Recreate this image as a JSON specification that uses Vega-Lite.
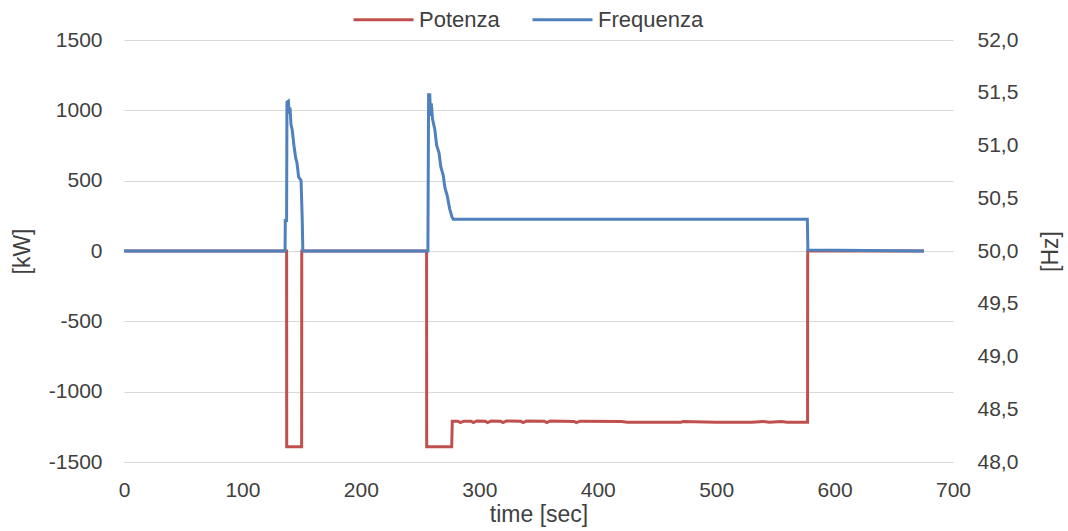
{
  "$schema": "https://vega.github.io/schema/vega-lite/v6.json",
  "width": 829,
  "height": 422,
  "autosize": "none",
  "padding": {"left": 124, "top": 40, "right": 115, "bottom": 69},
  "background": "white",
  "config": {
    "view": {"stroke": null},
    "font": "Liberation Sans",
    "axis": {"labelFont": "Liberation Sans", "titleFont": "Liberation Sans", "labelFontSize": 21, "titleFontSize": 23, "labelColor": "#404040", "titleColor": "#404040", "titleFontWeight": "normal"}
  },
  "datasets": {
    "pot": [
      {"t": 0, "s": "Potenza", "v": 0},
      {"t": 137.3, "s": "Potenza", "v": 0},
      {"t": 137.4, "s": "Potenza", "v": -1392},
      {"t": 150, "s": "Potenza", "v": -1392},
      {"t": 150.1, "s": "Potenza", "v": 0},
      {"t": 255.5, "s": "Potenza", "v": 0},
      {"t": 255.6, "s": "Potenza", "v": -1392},
      {"t": 276.7, "s": "Potenza", "v": -1392},
      {"t": 277.2, "s": "Potenza", "v": -1210},
      {"t": 282, "s": "Potenza", "v": -1210},
      {"t": 284, "s": "Potenza", "v": -1220},
      {"t": 287, "s": "Potenza", "v": -1210},
      {"t": 293, "s": "Potenza", "v": -1210},
      {"t": 295, "s": "Potenza", "v": -1220},
      {"t": 298, "s": "Potenza", "v": -1208},
      {"t": 305, "s": "Potenza", "v": -1210},
      {"t": 307, "s": "Potenza", "v": -1220},
      {"t": 310, "s": "Potenza", "v": -1208},
      {"t": 318, "s": "Potenza", "v": -1210},
      {"t": 320, "s": "Potenza", "v": -1220},
      {"t": 323, "s": "Potenza", "v": -1208},
      {"t": 335, "s": "Potenza", "v": -1210},
      {"t": 337, "s": "Potenza", "v": -1220},
      {"t": 340, "s": "Potenza", "v": -1208},
      {"t": 355, "s": "Potenza", "v": -1210},
      {"t": 357, "s": "Potenza", "v": -1220},
      {"t": 360, "s": "Potenza", "v": -1208},
      {"t": 380, "s": "Potenza", "v": -1212},
      {"t": 382, "s": "Potenza", "v": -1220},
      {"t": 385, "s": "Potenza", "v": -1210},
      {"t": 420, "s": "Potenza", "v": -1212},
      {"t": 425, "s": "Potenza", "v": -1218},
      {"t": 470, "s": "Potenza", "v": -1218},
      {"t": 472, "s": "Potenza", "v": -1212},
      {"t": 500, "s": "Potenza", "v": -1218},
      {"t": 530, "s": "Potenza", "v": -1218},
      {"t": 540, "s": "Potenza", "v": -1212},
      {"t": 545, "s": "Potenza", "v": -1218},
      {"t": 555, "s": "Potenza", "v": -1212},
      {"t": 560, "s": "Potenza", "v": -1218},
      {"t": 577.2, "s": "Potenza", "v": -1218},
      {"t": 577.3, "s": "Potenza", "v": 0},
      {"t": 675.5, "s": "Potenza", "v": 0}
    ],
    "freq": [
      {"t": 0, "s": "Frequenza", "v": 50.0},
      {"t": 136, "s": "Frequenza", "v": 50.0},
      {"t": 136.2, "s": "Frequenza", "v": 50.29},
      {"t": 137.3, "s": "Frequenza", "v": 50.29},
      {"t": 137.6, "s": "Frequenza", "v": 51.41},
      {"t": 138.8, "s": "Frequenza", "v": 51.42},
      {"t": 139.5, "s": "Frequenza", "v": 51.3},
      {"t": 140.2, "s": "Frequenza", "v": 51.36},
      {"t": 141, "s": "Frequenza", "v": 51.2},
      {"t": 142, "s": "Frequenza", "v": 51.15},
      {"t": 143.5, "s": "Frequenza", "v": 51.0},
      {"t": 145, "s": "Frequenza", "v": 50.88},
      {"t": 146, "s": "Frequenza", "v": 50.84},
      {"t": 147.5, "s": "Frequenza", "v": 50.7},
      {"t": 149.5, "s": "Frequenza", "v": 50.67},
      {"t": 150.5, "s": "Frequenza", "v": 50.3},
      {"t": 151, "s": "Frequenza", "v": 50.0},
      {"t": 256.6, "s": "Frequenza", "v": 50.0},
      {"t": 257.2, "s": "Frequenza", "v": 51.48},
      {"t": 258.2, "s": "Frequenza", "v": 51.48},
      {"t": 258.8, "s": "Frequenza", "v": 51.28},
      {"t": 259.5, "s": "Frequenza", "v": 51.4},
      {"t": 260.5, "s": "Frequenza", "v": 51.25},
      {"t": 262.5, "s": "Frequenza", "v": 51.15},
      {"t": 264, "s": "Frequenza", "v": 51.0},
      {"t": 266, "s": "Frequenza", "v": 50.93},
      {"t": 267.5, "s": "Frequenza", "v": 50.8},
      {"t": 269.5, "s": "Frequenza", "v": 50.72},
      {"t": 271, "s": "Frequenza", "v": 50.6},
      {"t": 273, "s": "Frequenza", "v": 50.52},
      {"t": 275, "s": "Frequenza", "v": 50.4},
      {"t": 277, "s": "Frequenza", "v": 50.32},
      {"t": 278, "s": "Frequenza", "v": 50.3},
      {"t": 577, "s": "Frequenza", "v": 50.3},
      {"t": 577.5, "s": "Frequenza", "v": 50.01},
      {"t": 675.5, "s": "Frequenza", "v": 50.0}
    ]
  },
  "encoding": {
    "x": {
      "field": "t", "type": "quantitative",
      "scale": {"domain": [0, 700]},
      "axis": {"title": "time [sec]", "values": [0,100,200,300,400,500,600,700], "grid": false, "ticks": false, "domain": true, "domainColor": "#d9d9d9", "labelPadding": 17, "titlePadding": 3, "labelFlush": false}
    },
    "color": {
      "field": "s", "type": "nominal",
      "scale": {"domain": ["Potenza", "Frequenza"], "range": ["#C0504D", "#4F81BD"]},
      "legend": {"title": null, "orient": "none", "legendX": 228, "legendY": -52, "direction": "horizontal", "symbolType": "stroke", "symbolSize": 3600, "symbolStrokeWidth": 3, "labelFontSize": 22, "labelFont": "Liberation Sans", "labelColor": "#404040", "columnPadding": 26, "symbolOffset": 0, "labelOffset": 4}
    }
  },
  "layer": [
    {
      "data": {"name": "pot"},
      "mark": {"type": "line", "strokeWidth": 3, "interpolate": "linear"},
      "encoding": {
        "y": {
          "field": "v", "type": "quantitative",
          "scale": {"domain": [-1500, 1500]},
          "axis": {"title": "[kW]", "values": [-1500,-1000,-500,0,500,1000,1500], "labelExpr": "'' + datum.value", "grid": true, "gridColor": "#d9d9d9", "ticks": false, "domain": false, "labelPadding": 22, "titlePadding": 14}
        }
      }
    },
    {
      "data": {"name": "freq"},
      "mark": {"type": "line", "strokeWidth": 3, "interpolate": "linear"},
      "encoding": {
        "y": {
          "field": "v", "type": "quantitative",
          "scale": {"domain": [48, 52]},
          "axis": {"orient": "right", "title": "[Hz]", "titleAngle": 270, "titleX": 97, "titleY": 211, "titleAlign": "center", "titleBaseline": "middle", "values": [48,48.5,49,49.5,50,50.5,51,51.5,52], "format": ".1f", "labelExpr": "replace(datum.label, '.', ',')", "grid": false, "ticks": false, "domain": false, "labelPadding": 24}
        }
      }
    }
  ],
  "resolve": {"scale": {"y": "independent"}}
}
